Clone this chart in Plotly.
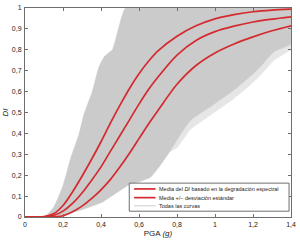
import plotly.graph_objects as go

# ---- data ----
pga = [0, 0.1, 0.15, 0.2, 0.25, 0.3, 0.35, 0.4, 0.45, 0.5, 0.55, 0.6, 0.65, 0.7,
       0.8, 0.9, 1.0, 1.1, 1.2, 1.3, 1.4]
di_plus = [0, 0.002, 0.015, 0.055, 0.12, 0.195, 0.275, 0.36, 0.45, 0.535, 0.615, 0.685, 0.745, 0.795,
           0.865, 0.915, 0.948, 0.968, 0.982, 0.99, 0.995]
di_mean = [0, 0.001, 0.007, 0.028, 0.065, 0.115, 0.175, 0.24, 0.315, 0.39, 0.465, 0.54, 0.61, 0.67,
           0.775, 0.845, 0.887, 0.913, 0.933, 0.947, 0.958]
di_minus = [0, 0.0, 0.001, 0.006, 0.025, 0.052, 0.088, 0.13, 0.18, 0.24, 0.305, 0.375, 0.445, 0.51,
            0.635, 0.725, 0.785, 0.828, 0.862, 0.891, 0.915]

# envelope of all curves
env_up_x = [0, 0.10, 0.15, 0.20, 0.24, 0.285, 0.31, 0.354, 0.39, 0.42, 0.44, 0.46, 0.48, 0.51, 0.53, 1.4]
env_up_v = [0, 0, 0.046, 0.15, 0.28, 0.40, 0.49, 0.60, 0.72, 0.77, 0.785, 0.80, 0.86, 0.96, 1.0, 1.0]
env_lo_x = [0.10, 0.2, 0.3, 0.405, 0.54, 0.66, 0.76, 0.87, 0.98, 1.09, 1.17, 1.23, 1.31, 1.4]
env_lo_v = [0, 0.01, 0.035, 0.07, 0.15, 0.19, 0.31, 0.46, 0.53, 0.60, 0.66, 0.71, 0.79, 0.83]
# sparse outlying curves (lighter fringe)
fringe_x = [0.80, 0.87, 0.98, 1.09, 1.17, 1.23, 1.31, 1.4]
fringe_v = [0.33, 0.42, 0.49, 0.56, 0.62, 0.67, 0.75, 0.80]

legend_labels = ["Media del <i>DI</i> basado en la degradación espectral",
                 "Media +/− desviación estándar",
                 "Todas las curvas"]

x_ticks = [0, 0.2, 0.4, 0.6, 0.8, 1, 1.2, 1.4]
y_ticks = [0, 0.1, 0.2, 0.3, 0.4, 0.5, 0.6, 0.7, 0.8, 0.9, 1]

GRAY = "#cbcbcb"
LIGHT = "#e6e6e6"
RED = "#d42a2f"

fig = go.Figure()
fig.add_trace(go.Scatter(
    x=fringe_x + env_lo_x[::-1][:8], y=fringe_v + env_lo_v[::-1][:8],
    fill="toself", fillcolor=LIGHT, mode="lines", line=dict(color=LIGHT, width=0.5),
    showlegend=False, hoverinfo="skip"))
fig.add_trace(go.Scatter(
    x=env_up_x + env_lo_x[::-1], y=env_up_v + env_lo_v[::-1],
    fill="toself", fillcolor=GRAY, mode="lines", line=dict(color=GRAY, width=0.5, shape="spline", smoothing=0.5),
    name=legend_labels[2], showlegend=False, hoverinfo="skip"))
for ys, nm in [(di_plus, legend_labels[1]), (di_mean, legend_labels[0]), (di_minus, legend_labels[1])]:
    fig.add_trace(go.Scatter(x=pga, y=ys, mode="lines",
                             line=dict(color=RED, width=1.7, shape="spline", smoothing=0.8),
                             name=nm, showlegend=False))

# manual compact legend (paper coords = plot area)
W, H, L, T = 300, 240, 21, 4
PW, PH = 273, 216
def px(x):
    return (x - L) / PW
def py(y):
    return (T + PH - y) / PH

shapes = [dict(type="rect", xref="paper", yref="paper", x0=px(128), x1=px(292), y0=py(214), y1=py(185),
               line=dict(color="#6e6e6e", width=1), fillcolor="white", layer="above")]
rows = [191, 200, 208.5]
cols = [RED, RED, GRAY]
annos = []
for r, c, lab in zip(rows, cols, legend_labels):
    shapes.append(dict(type="line", xref="paper", yref="paper", x0=px(133), x1=px(155), y0=py(r), y1=py(r),
                       line=dict(color=c, width=1.7 if c == RED else 1), layer="above"))
    annos.append(dict(xref="paper", yref="paper", x=px(156.5), y=py(r), text=lab, showarrow=False,
                      xanchor="left", yanchor="middle", font=dict(size=5.5, color="#222", family="Liberation Sans")))

axis_common = dict(showline=True, linecolor="#6e6e6e", linewidth=1, mirror="ticks", ticks="inside",
                   ticklen=3, tickcolor="#6e6e6e", showgrid=False, zeroline=False,
                   tickfont=dict(size=7, color="#222", family="Liberation Sans"))
fig.update_layout(
    width=W, height=H, margin=dict(l=L, r=W - L - PW, t=T, b=H - T - PH),
    paper_bgcolor="white", plot_bgcolor="white", separators=",.",
    showlegend=False, shapes=shapes, annotations=annos,
    xaxis=dict(range=[0, 1.4], tickvals=x_ticks, ticklabelstandoff=1,
               title=dict(text="PGA <i>(g)</i>", font=dict(size=8, color="#222", family="Liberation Sans"), standoff=2),
               **axis_common),
    yaxis=dict(range=[0, 1], tickvals=y_ticks, ticklabelstandoff=1,
               title=dict(text="<i>DI</i>", font=dict(size=8, color="#222", family="Liberation Sans"), standoff=2),
               **axis_common),
)
fig.write_html("out.html")
